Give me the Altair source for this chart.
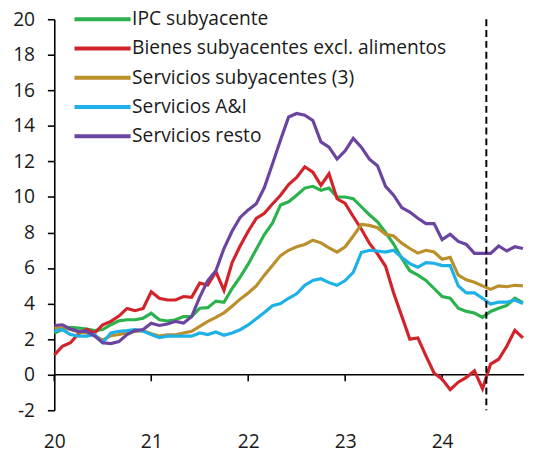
import altair as alt
import pandas as pd

series_names = [
    "IPC subyacente",
    "Bienes subyacentes excl. alimentos",
    "Servicios subyacentes (3)",
    "Servicios A&I",
    "Servicios resto",
]
colors = ["#2bb24c", "#d2232a", "#bb8f2a", "#1eb1e7", "#6a44a0"]

ipc = [2.35, 2.54, 2.67, 2.63, 2.57, 2.48, 2.54, 2.81, 3.03, 3.09, 3.09, 3.18, 3.46, 3.09, 3.02,
       3.09, 3.27, 3.27, 3.74, 3.77, 4.14, 4.07, 4.84, 5.49, 6.22, 7.06, 7.89, 8.53, 9.55, 9.73,
       10.1, 10.5, 10.6, 10.38, 10.5, 10.0, 10.0, 9.9, 9.45, 9.0, 8.6, 8.0, 7.35, 6.55, 5.85,
       5.6, 5.3, 4.85, 4.4, 4.3, 3.74, 3.56, 3.47, 3.23, 3.56, 3.74, 3.9, 4.3, 4.06]
bienes = [1.1, 1.6, 1.8, 2.3, 2.55, 2.35, 2.8, 3.0, 3.3, 3.73, 3.6, 3.73, 4.67, 4.3, 4.2,
          4.2, 4.4, 4.35, 5.15, 5.05, 5.8, 4.75, 6.3, 7.24, 8.07, 8.8, 9.08, 9.6, 10.1, 10.7,
          11.1, 11.7, 11.4, 10.65, 11.3, 9.9, 9.64, 8.9, 8.2, 7.4, 6.8, 6.1, 4.6, 3.3, 2.0,
          2.07, 1.06, 0.1, -0.25, -0.84, -0.42, -0.15, 0.22, -0.79, 0.6, 0.87, 1.6, 2.5, 2.07]
servicios = [2.63, 2.63, 2.54, 2.4, 2.35, 2.2, 1.95, 2.2, 2.26, 2.35, 2.44, 2.48, 2.3, 2.17, 2.25,
             2.25, 2.35, 2.44, 2.72, 3.0, 3.22, 3.48, 3.85, 4.25, 4.6, 5.0, 5.6, 6.15, 6.7, 7.0,
             7.2, 7.33, 7.57, 7.42, 7.14, 6.9, 7.2, 7.8, 8.45, 8.4, 8.27, 7.9, 7.8, 7.4, 7.1,
             6.84, 7.0, 6.9, 6.5, 6.6, 5.6, 5.34, 5.2, 5.0, 4.8, 5.0, 4.95, 5.03, 5.0]
ayi = [2.44, 2.54, 2.26, 2.17, 2.17, 2.26, 1.8, 2.35, 2.44, 2.48, 2.54, 2.44, 2.26, 2.08, 2.17,
       2.17, 2.17, 2.17, 2.35, 2.26, 2.4, 2.22, 2.35, 2.53, 2.8, 3.15, 3.5, 3.88, 4.0, 4.3,
       4.55, 5.03, 5.3, 5.4, 5.18, 5.03, 5.3, 5.76, 6.87, 7.0, 6.96, 6.9, 7.0, 6.6, 6.25,
       6.05, 6.3, 6.27, 6.14, 6.14, 5.0, 4.6, 4.6, 4.3, 3.97, 4.08, 4.08, 4.2, 4.0]
resto = [2.77, 2.81, 2.57, 2.44, 2.44, 2.17, 1.8, 1.75, 1.86, 2.26, 2.48, 2.54, 2.9, 2.77, 2.85,
         3.0, 2.9, 3.27, 4.37, 5.3, 5.85, 7.1, 8.07, 8.85, 9.27, 9.62, 10.53, 11.85, 13.2, 14.5,
         14.7, 14.6, 14.3, 13.1, 12.8, 12.13, 12.6, 13.3, 12.8, 12.13, 11.76, 10.6, 10.1, 9.4, 9.15,
         8.8, 8.5, 8.5, 7.6, 7.9, 7.5, 7.33, 6.83, 6.83, 6.83, 7.24, 6.96, 7.2, 7.1]

year_ticks = [20, 21, 22, 23, 24]
y_ticks = [-2, 0, 2, 4, 6, 8, 10, 12, 14, 16, 18, 20]
cutoff = [24.456]

n = len(ipc)
t_vals = [20 + i / 12 for i in range(n)]
rows = []
for k, (name, vals) in enumerate(zip(series_names, [ipc, bienes, servicios, ayi, resto])):
    for t, v in zip(t_vals, vals):
        rows.append({"t": t, "v": v, "serie": name, "k": k})
df = pd.DataFrame(rows)

FONT = "Open Sans"
TXT = "#1a1a1a"
x_scale = alt.Scale(domain=[20, 24.845], nice=False, zero=False)
y_scale = alt.Scale(domain=[-2, 20], nice=False, zero=False)

x_axis = alt.Axis(values=year_ticks, labelExpr="'' + datum.value", title=None,
                  domain=False, ticks=False, tickSize=0, labelPadding=23,
                  grid=False, labelFlush=False, labelOverlap=False,
                  labelFontSize=19.5, labelFont=FONT, labelColor=TXT)
y_axis = alt.Axis(values=y_ticks, labelExpr="'' + datum.value", title=None,
                  grid=False, tickSize=7, labelPadding=13, labelFlush=False,
                  labelOverlap=False, labelBound=False, domainColor="black",
                  tickColor="black", domainWidth=1.6, tickWidth=1.6,
                  labelFontSize=19.5, labelFont=FONT, labelColor=TXT)

lines = alt.Chart(df).mark_line(strokeWidth=3.2).encode(
    x=alt.X("t:Q", scale=x_scale, axis=x_axis),
    y=alt.Y("v:Q", scale=y_scale, axis=y_axis),
    color=alt.Color("serie:N", scale=alt.Scale(domain=series_names, range=colors),
                    legend=alt.Legend(orient="none", legendX=37, legendY=-12, title=None,
                                      symbolType="M-2.85,0H2.85", symbolSize=400,
                                      symbolStrokeWidth=4, labelFontSize=19.5,
                                      labelFont=FONT, labelColor=TXT, labelOffset=18,
                                      rowPadding=7.7, labelLimit=0)),
    order=alt.Order("k:Q"),
)

zero_line = alt.Chart(pd.DataFrame({"y": [0]})).mark_rule(
    color="black", strokeWidth=1.6).encode(y=alt.Y("y:Q", scale=y_scale, axis=y_axis))

tick_df = pd.DataFrame({"t": year_ticks, "y0": [0] * 5, "y1": [-0.37] * 5})
x_tick_marks = alt.Chart(tick_df).mark_rule(color="black", strokeWidth=1.6).encode(
    x=alt.X("t:Q", scale=x_scale, axis=x_axis),
    y=alt.Y("y0:Q", scale=y_scale, axis=y_axis),
    y2="y1:Q")

dashed = alt.Chart(pd.DataFrame({"t": cutoff})).mark_rule(
    color="black", strokeWidth=2, strokeDash=[7, 4]).encode(
    x=alt.X("t:Q", scale=x_scale, axis=x_axis))

chart = alt.layer(zero_line, x_tick_marks, lines, dashed).properties(
    width=477, height=397,
    autosize=alt.AutoSizeParams(type="none"),
    padding={"left": 47, "top": 8, "right": 3, "bottom": 40},
).configure_view(stroke=None).configure_axis(labelOverlap=False)

chart.save("out.html", embed_options={"renderer": "svg", "actions": False})
